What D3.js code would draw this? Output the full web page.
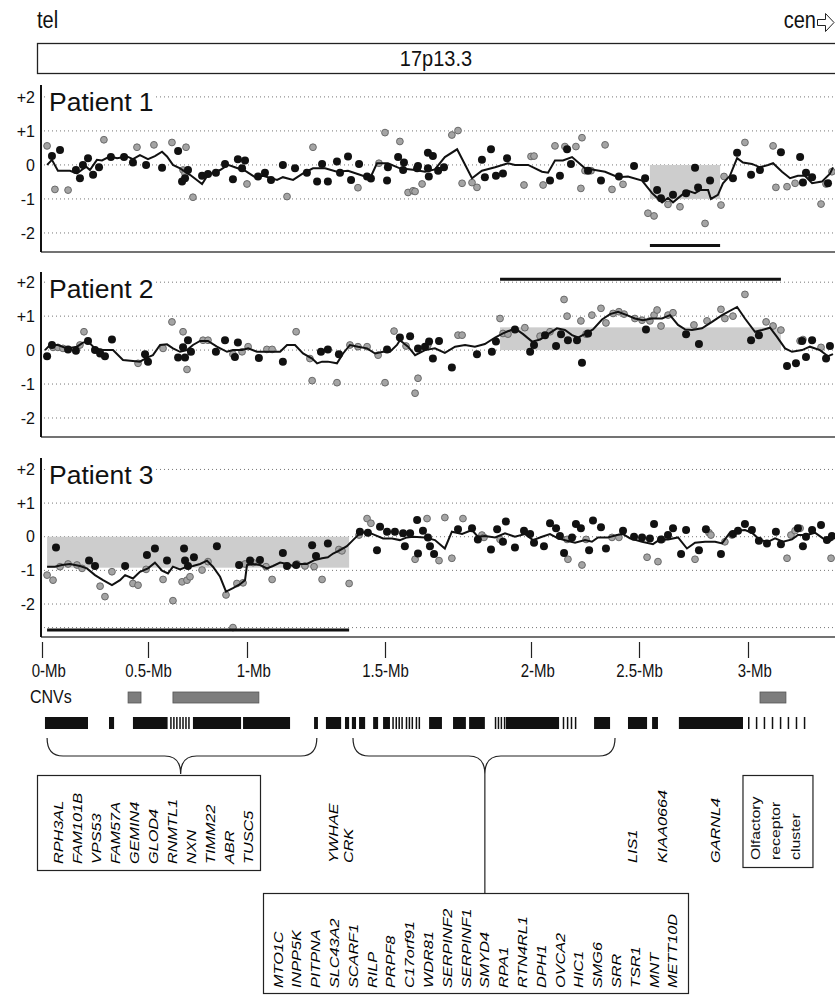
<!DOCTYPE html>
<html>
<head>
<meta charset="utf-8">
<script src="https://cdn.jsdelivr.net/npm/d3@7"></script>
<style>
body { margin: 0; background: #fff; }
text { font-family: "Liberation Sans", Arial, sans-serif; fill: #111; }
.gene { font-style: italic; font-size: 13px; fill: #000; }
</style>
</head>
<body>
<script>
//data - positions in Mb, values are log2 ratios

var xTickValues = [0, 0.5, 1, 1.5, 2, 2.5, 3];
var yTickValues = [2, 1, 0, -1, -2];
var yTickLabels = ["+2", "+1", "0", "-1", "-2"];

var p1Line = [[0.024,0],[0.047,0.15],[0.075,-0.17],[0.132,-0.17],[0.165,-0.25],[0.208,-0.05],[0.226,-0.15],[0.259,0.15],[0.283,0.13],[0.321,0.25],[0.354,0.2],[0.401,0.25],[0.429,0.17],[0.462,0.29],[0.5,0.17],[0.535,0.26],[0.571,0.39],[0.596,0.25],[0.626,0],[0.662,-0.1],[0.712,-0.29],[0.773,-0.56],[0.803,-0.29],[0.864,-0.15],[0.904,0],[0.939,-0.07],[0.99,-0.17],[1.029,-0.36],[1.058,-0.32],[1.109,-0.44],[1.13,-0.36],[1.167,-0.44],[1.203,-0.25],[1.239,-0.1],[1.283,-0.1],[1.326,-0.2],[1.366,-0.17],[1.409,-0.29],[1.446,-0.39],[1.471,0.05],[1.51,0.05],[1.551,-0.1],[1.603,-0.15],[1.637,-0.2],[1.671,-0.13],[1.705,0.23],[1.747,0.46],[1.798,-0.39],[1.832,-0.17],[1.877,-0.07],[1.921,0.05],[1.945,0],[1.99,0],[2.051,-0.2],[2.079,-0.23],[2.111,0.13],[2.148,0.13],[2.19,0.23],[2.25,-0.1],[2.296,-0.15],[2.343,-0.2],[2.403,-0.36],[2.449,-0.34],[2.514,-0.46],[2.56,-0.83],[2.606,-1.1],[2.633,-0.97],[2.656,-1.1],[2.697,-0.88],[2.725,-0.76],[2.757,-0.83],[2.78,-0.74],[2.817,-0.74],[2.83,-1.0],[2.862,-0.88],[2.885,-0.54],[2.917,-0.32],[2.95,0.2],[2.977,0.07],[3.018,0.03],[3.055,-0.07],[3.092,0],[3.115,0.05],[3.156,-0.2],[3.193,-0.39],[3.229,-0.32],[3.261,-0.32],[3.294,-0.54],[3.339,-0.49],[3.376,-0.26],[3.39,-0.07]];
var p1Black = [[0.047,0.26],[0.085,0.44],[0.16,-0.15],[0.179,-0.39],[0.193,0],[0.217,0.2],[0.241,-0.29],[0.269,-0.07],[0.325,0.23],[0.387,0.23],[0.429,0.07],[0.491,0],[0.571,-0.08],[0.652,0.41],[0.672,-0.49],[0.687,-0.39],[0.702,-0.15],[0.773,-0.32],[0.803,-0.27],[0.843,-0.23],[0.889,0.03],[0.929,-0.42],[0.954,0.17],[0.99,0.13],[0.975,-0.1],[1.04,-0.34],[1.065,-0.23],[1.087,-0.44],[1.13,0],[1.174,-0.1],[1.217,-0.23],[1.254,-0.49],[1.272,0.03],[1.293,-0.49],[1.326,0.1],[1.337,-0.23],[1.366,0.25],[1.377,-0.44],[1.406,0.03],[1.435,-0.34],[1.449,-0.4],[1.507,-0.46],[1.51,-0.07],[1.545,0.23],[1.565,0.07],[1.562,-0.15],[1.61,-0.1],[1.613,-0.03],[1.647,0.36],[1.664,0.26],[1.647,-0.1],[1.65,-0.34],[1.682,-0.17],[1.702,-0.07],[1.832,0.15],[1.842,-0.36],[1.863,0.46],[1.88,-0.32],[1.904,-0.25],[1.918,0.2],[2.134,-0.32],[2.088,-0.46],[2.167,0.46],[2.185,0.03],[2.264,-0.17],[2.324,-0.46],[2.407,-0.34],[2.477,-0.03],[2.528,-0.39],[2.583,-0.74],[2.601,-0.98],[2.656,-0.88],[2.716,-0.83],[2.757,-0.08],[2.771,-0.66],[2.826,-0.46],[2.931,-0.39],[2.95,0.36],[3.014,-0.29],[3.055,-0.15],[3.151,0.37],[3.239,0.23],[3.252,-0.52],[3.266,-0.23],[3.294,-0.36],[3.367,-0.54]];
var p1Gray = [[0.024,0.56],[0.061,-0.72],[0.123,-0.74],[0.292,0.74],[0.448,0.52],[0.53,0.59],[0.621,0.66],[0.677,-0.15],[0.687,-0.25],[0.692,0.52],[0.727,-0.95],[1.0,-0.56],[1.145,-0.93],[1.239,0.52],[1.402,-0.67],[1.478,0.05],[1.5,0.95],[1.551,0.69],[1.579,-0.81],[1.596,-0.76],[1.603,-0.78],[1.627,-0.56],[1.729,0.88],[1.75,1.01],[1.764,-0.54],[1.798,-0.52],[1.815,-0.66],[1.976,-0.59],[2.0,0.25],[2.014,0.26],[2.056,-0.59],[2.111,0.56],[2.157,0.54],[2.208,0.54],[2.236,0.8],[2.231,-0.69],[2.25,-0.17],[2.278,-0.17],[2.343,0.59],[2.375,-0.72],[2.426,-0.57],[2.541,-1.42],[2.569,-1.5],[2.633,-1.16],[2.688,-1.23],[2.803,-1.72],[2.876,-1.18],[2.89,-0.34],[2.986,0.66],[3.115,0.56],[3.128,-0.66],[3.179,-0.64],[3.216,-0.54],[3.335,-1.15],[3.358,-0.56],[3.385,-0.2]];

var p2Line = [[0.014,0],[0.038,0.15],[0.075,0.15],[0.118,0.05],[0.165,0.1],[0.193,0.22],[0.217,0.25],[0.25,0.05],[0.283,0],[0.335,0],[0.382,-0.29],[0.429,-0.32],[0.462,-0.34],[0.495,-0.22],[0.525,-0.15],[0.561,0.15],[0.596,0.17],[0.626,0.05],[0.662,-0.05],[0.697,0],[0.727,0.15],[0.763,0.27],[0.803,0.27],[0.848,0.1],[0.899,-0.05],[0.929,0],[0.975,0],[1.004,0.05],[1.036,-0.05],[1.072,-0.05],[1.12,-0.05],[1.145,0.15],[1.174,0.15],[1.203,-0.1],[1.236,-0.25],[1.254,-0.39],[1.272,-0.34],[1.293,-0.34],[1.326,-0.39],[1.348,-0.1],[1.373,0.15],[1.402,0.1],[1.435,0.05],[1.464,-0.1],[1.493,-0.05],[1.517,-0.05],[1.541,0.15],[1.551,0.29],[1.579,0.1],[1.603,-0.15],[1.637,0],[1.671,0.05],[1.705,-0.08],[1.74,0.1],[1.774,0.15],[1.808,0.1],[1.842,0.18],[1.877,0.37],[1.904,0.49],[1.945,0.64],[1.973,0.47],[2.005,0.25],[2.042,0.31],[2.079,0.47],[2.12,0.64],[2.157,0.59],[2.19,0.44],[2.218,0.37],[2.259,0.51],[2.287,0.61],[2.329,0.9],[2.366,1.06],[2.403,1.13],[2.444,1.03],[2.481,0.93],[2.518,0.88],[2.56,0.93],[2.606,0.93],[2.642,1.03],[2.679,0.74],[2.711,0.61],[2.743,0.59],[2.789,0.64],[2.835,0.83],[2.881,1.03],[2.95,1.27],[2.986,0.93],[3.032,0.54],[3.064,0.59],[3.101,0.66],[3.133,0.39],[3.17,0.05],[3.202,-0.05],[3.248,0],[3.284,0.1],[3.33,0],[3.367,-0.18],[3.39,-0.12]];
var p2Black = [[0.024,-0.18],[0.047,0.15],[0.123,0.02],[0.16,-0.02],[0.217,0.27],[0.25,0],[0.274,-0.1],[0.297,-0.18],[0.33,0.31],[0.486,-0.12],[0.5,-0.34],[0.652,-0.22],[0.677,0.08],[0.687,-0.22],[0.702,0.29],[0.717,-0.05],[0.843,-0.05],[0.889,0.29],[0.939,-0.2],[0.954,0.22],[1.043,-0.23],[1.13,-0.34],[1.268,-0.05],[1.293,0.02],[1.333,-0.12],[1.507,0.02],[1.551,0.37],[1.586,0.41],[1.613,0.05],[1.637,0.1],[1.651,0.25],[1.664,-0.25],[1.685,0.27],[1.729,-0.51],[1.815,-0.12],[1.866,-0.05],[1.88,0.25],[1.945,0.61],[1.997,-0.05],[2.014,0.15],[2.065,0.44],[2.116,0.12],[2.139,0.47],[2.171,0.29],[2.213,0.29],[2.236,-0.37],[2.264,0.49],[2.532,0.61],[2.716,0.47],[2.775,0.18],[3.014,0.29],[3.05,0.44],[3.179,-0.47],[3.22,-0.39],[3.248,0.27],[3.266,-0.2],[3.294,0.29],[3.358,-0.25],[3.376,0.12]];
var p2Gray = [[0.052,0.08],[0.075,0.08],[0.099,0.05],[0.179,0.15],[0.198,0.54],[0.274,-0.05],[0.453,-0.39],[0.576,0.05],[0.621,0.83],[0.677,0.54],[0.697,-0.57],[0.778,0.29],[0.803,0.29],[0.929,-0.12],[0.975,-0.05],[1.004,0.1],[1.072,0.02],[1.091,0.02],[1.178,0.54],[1.228,-0.25],[1.236,-0.9],[1.326,-0.96],[1.373,0.15],[1.402,0.1],[1.435,0.1],[1.475,-0.15],[1.5,-0.96],[1.531,0.56],[1.572,0.12],[1.603,-1.27],[1.613,-0.83],[1.647,0.15],[1.75,0.44],[1.764,0.44],[1.894,0.93],[1.904,0.49],[1.921,0.47],[1.979,0.66],[2.042,0.41],[2.088,0.54],[2.153,1.49],[2.167,1.0],[2.231,0.86],[2.255,0.47],[2.282,1.03],[2.324,1.23],[2.347,0.8],[2.38,1.08],[2.407,1.13],[2.431,1.06],[2.481,0.93],[2.514,0.88],[2.55,0.86],[2.569,1.03],[2.583,1.18],[2.601,0.71],[2.633,1.03],[2.656,1.1],[2.752,0.74],[2.812,0.86],[2.876,1.2],[2.894,0.93],[2.931,1.0],[2.986,1.64],[3.083,0.83],[3.115,0.71],[3.151,0.59],[3.239,0.27],[3.252,0.31],[3.335,0.08]];

var p3Line = [[0.024,-0.89],[0.061,-0.89],[0.094,-0.84],[0.132,-0.81],[0.179,-0.87],[0.212,-0.94],[0.25,-1.14],[0.288,-1.29],[0.33,-1.44],[0.368,-1.29],[0.392,-1.14],[0.429,-1.24],[0.462,-1.04],[0.5,-0.94],[0.535,-0.77],[0.571,-1.01],[0.601,-1.09],[0.626,-0.89],[0.662,-0.97],[0.697,-0.89],[0.727,-0.87],[0.763,-0.81],[0.798,-0.71],[0.828,-0.89],[0.864,-1.19],[0.894,-1.63],[0.929,-1.53],[0.965,-1.41],[0.99,-1.29],[1.0,-0.84],[1.022,-0.81],[1.047,-0.84],[1.072,-0.94],[1.094,-0.87],[1.12,-0.77],[1.145,-0.81],[1.167,-0.87],[1.192,-0.81],[1.217,-0.81],[1.246,-0.69],[1.272,-0.64],[1.293,-0.61],[1.312,-0.5],[1.337,-0.4],[1.362,-0.28],[1.384,-0.1],[1.409,0.1],[1.435,0.15],[1.464,0.05],[1.493,-0.05],[1.524,-0.05],[1.551,-0.1],[1.575,-0.02],[1.596,0],[1.637,-0.02],[1.671,-0.1],[1.705,-0.35],[1.729,0.15],[1.764,0.08],[1.798,0.2],[1.818,0],[1.842,0.02],[1.877,-0.02],[1.911,0.1],[1.945,0],[1.979,0.08],[2.009,-0.1],[2.051,0],[2.088,0.08],[2.125,-0.05],[2.167,-0.12],[2.204,-0.18],[2.25,-0.1],[2.282,-0.15],[2.31,-0.02],[2.356,-0.02],[2.398,0.05],[2.426,0.08],[2.458,-0.05],[2.514,-0.15],[2.564,-0.22],[2.596,-0.08],[2.633,-0.08],[2.679,-0.02],[2.72,-0.35],[2.757,-0.18],[2.803,-0.15],[2.849,-0.15],[2.881,-0.2],[2.917,0.12],[2.95,0.18],[2.986,0.2],[3.018,0.12],[3.055,-0.1],[3.092,-0.15],[3.124,-0.05],[3.161,-0.15],[3.202,-0.08],[3.229,0.05],[3.271,0.05],[3.307,0.12],[3.344,-0.05],[3.367,-0.15],[3.39,-0.08]];
var p3Black = [[0.066,-0.32],[0.222,-0.71],[0.25,-0.87],[0.392,-0.87],[0.495,-0.54],[0.535,-0.35],[0.596,-0.71],[0.682,-0.35],[0.687,-0.71],[0.702,-0.87],[0.732,-0.61],[0.848,-0.28],[0.96,-0.84],[1.011,-0.71],[1.047,-0.69],[1.13,-0.48],[1.145,-0.87],[1.178,-0.84],[1.236,-0.25],[1.25,-0.57],[1.293,-0.2],[1.409,0.15],[1.438,0.12],[1.471,-0.4],[1.482,0.3],[1.507,0.15],[1.534,0.15],[1.562,0.1],[1.568,-0.28],[1.586,0.1],[1.61,0.5],[1.613,-0.5],[1.63,0.18],[1.647,-0.02],[1.654,-0.28],[1.668,-0.51],[1.75,0.22],[1.798,0.25],[1.818,-0.08],[1.863,-0.38],[1.884,0.22],[1.904,-0.15],[1.914,0.45],[1.945,-0.32],[1.976,0.18],[1.997,0.08],[2.014,-0.18],[2.06,-0.28],[2.088,0.4],[2.116,0.25],[2.134,0.02],[2.153,-0.48],[2.19,-0.02],[2.208,0.38],[2.231,0.25],[2.269,-0.4],[2.287,0.48],[2.324,0.28],[2.347,-0.35],[2.426,0.18],[2.477,0],[2.514,-0.02],[2.55,-0.05],[2.569,0.38],[2.601,-0.08],[2.633,0.05],[2.656,0.25],[2.693,-0.51],[2.716,0.2],[2.775,-0.4],[2.807,0.22],[2.876,-0.51],[2.931,0.08],[2.954,0.18],[2.986,0.38],[3.018,0.2],[3.05,-0.12],[3.087,-0.2],[3.128,0.15],[3.151,-0.22],[3.229,0.25],[3.252,-0.28],[3.266,0],[3.294,0.2],[3.335,0.35],[3.362,-0.1],[3.385,0.02]];
var p3Gray = [[0.024,-1.14],[0.052,-1.29],[0.085,-0.89],[0.123,-0.81],[0.165,-0.84],[0.189,-0.94],[0.274,-1.47],[0.297,-1.78],[0.33,-1.04],[0.429,-1.39],[0.453,-1.44],[0.491,-0.97],[0.576,-1.27],[0.626,-1.9],[0.672,-1.34],[0.697,-1.29],[0.712,-1.19],[0.773,-0.99],[0.803,-0.74],[0.894,-1.73],[0.949,-1.39],[0.98,-1.37],[0.99,-0.81],[1.022,-0.77],[1.069,-0.89],[1.091,-1.27],[1.181,-0.81],[1.21,-0.87],[1.243,-0.89],[1.272,-1.27],[1.333,-0.38],[1.344,-0.42],[1.37,-1.39],[1.406,0.05],[1.435,0.54],[1.449,0.4],[1.603,-0.67],[0.929,-2.7],[1.644,0.54],[1.685,-0.71],[1.705,0.57],[1.729,-0.64],[1.767,0.54],[1.832,0.05],[1.839,-0.02],[1.894,-0.08],[2.167,-0.08],[2.171,-0.67],[2.236,-0.84],[2.255,-0.08],[2.375,-0.02],[2.407,-0.02],[2.537,-0.61],[2.587,-0.74],[2.606,-0.08],[2.757,-0.67],[2.821,0.12],[2.83,0.05],[2.894,-0.15],[2.927,0.05],[3.179,-0.64],[3.197,0.05],[3.216,0.18],[3.239,0.25],[3.381,-0.64]];

//segmented regions [startMb, endMb, value] and the bar marking the CNV call
var p1Shade = [2.55, 2.872, -1], p1Bar = [2.55, 2.872, -2.37];
var p2Shade = [1.894, 3.151, 0.67], p2Bar = [1.894, 3.151, 2.09];
var p3Shade = [0.024, 1.37, -0.92], p3Bar = [0.024, 1.37, -2.77];

var cnvs = [[0.406, 0.467], [0.626, 1.043], [3.055, 3.174]];

var genes = [[0.014,0.217],[0.316,0.34],[0.429,0.599],[0.612,0.619],[0.627,0.634],[0.642,0.649],[0.658,0.665],[0.673,0.68],[0.688,0.695],[0.703,0.71],[0.727,0.97],[0.98,1.156],[1.243,1.257],[1.286,1.341],[1.355,1.37],[1.38,1.395],[1.406,1.428],[1.457,1.475],[1.493,1.517],[1.525,1.53],[1.536,1.541],[1.546,1.551],[1.556,1.561],[1.571,1.575],[1.581,1.585],[1.591,1.595],[1.605,1.609],[1.615,1.619],[1.651,1.695],[1.733,1.777],[1.788,1.842],[1.876,1.88],[1.886,1.89],[1.896,1.9],[1.907,1.911],[1.914,2.13],[2.147,2.152],[2.166,2.171],[2.184,2.189],[2.203,2.208],[2.292,2.366],[2.449,2.537],[2.56,2.587],[2.683,2.977],[3.0,3.006],[3.036,3.042],[3.072,3.078],[3.109,3.115],[3.146,3.152],[3.182,3.188],[3.219,3.225],[3.256,3.262]];

//braces [leftMb, tipMb, rightMb]
var braces = [[0.024, 0.665, 1.253], [1.384, 1.842, 2.389]];

var box1Genes = ["RPH3AL","FAM101B","VPS53","FAM57A","GEMIN4","GLOD4","RNMTL1","NXN","TIMM22","ABR","TUSC5"];
var box2Genes = ["MTO1C","INPP5K","PITPNA","SLC43A2","SCARF1","RILP","PRPF8","C17orf91","WDR81","SERPINF2","SERPINF1","SMYD4","RPA1","RTN4RL1","DPH1","OVCA2","HIC1","SMG6","SRR","TSR1","MNT","METT10D"];
var singleGenes = [["YWHAE",1.312],["CRK",1.366],["LIS1",2.468],["KIAA0664",2.61],["GARNL4",2.849]];
var olfLines = ["Olfactory","receptor","cluster"];

window.onload = function(){

	var w = 835, h = 995;

	var svg = d3.select("body")
		.append("svg")
		.attr("width", w)
		.attr("height", h)
		.style("display", "block");

	//x scale is stretched unevenly along the chromosome, so piecewise
	var x = d3.scaleLinear()
		.domain([0, 0.5, 1, 1.5, 2, 2.5, 3, 3.5])
		.range([42, 148, 247, 385, 531, 639, 748, 857]);

	//header (scan is a bit tall, so text is stretched vertically)
	svg.append("text").attr("transform", "translate(37,28) scale(1,1.15)").style("font-size", "20px").text("tel");
	svg.append("text").attr("transform", "translate(816,28) scale(1,1.15)").attr("text-anchor", "end").style("font-size", "20px").text("cen");
	svg.append("path")
		.attr("d", "M817.5,19.5 L825.5,19.5 L825.5,13.5 L834,22.5 L825.5,31.5 L825.5,25.5 L817.5,25.5 Z")
		.style("fill", "none").style("stroke", "#222").style("stroke-width", 1);
	svg.append("rect")
		.attr("x", 37.5).attr("y", 43.5).attr("width", 810).attr("height", 30)
		.style("fill", "none").style("stroke", "#222").style("stroke-width", 1.3);
	svg.append("text").attr("transform", "translate(436,66) scale(1,1.1)").attr("text-anchor", "middle")
		.style("font-size", "20px").text("17p13.3");

	var panels = [
		{name: "Patient 1", top: 85, bottom: 252, ymin: -2.56, ymax: 2.35, line: p1Line, black: p1Black, gray: p1Gray, shade: p1Shade, bar: p1Bar, extra: []},
		{name: "Patient 2", top: 272, bottom: 437, ymin: -2.56, ymax: 2.3, line: p2Line, black: p2Black, gray: p2Gray, shade: p2Shade, bar: p2Bar, extra: []},
		{name: "Patient 3", top: 458, bottom: 637, ymin: -2.98, ymax: 2.34, line: p3Line, black: p3Black, gray: p3Gray, shade: p3Shade, bar: p3Bar, extra: [-2.7]}
	];

	panels.forEach(function(p){
		var y = d3.scaleLinear().domain([p.ymin, p.ymax]).range([p.bottom, p.top]);
		var g = svg.append("g").attr("class", "panel");

		//dotted gridlines
		g.selectAll(".grid")
			.data(yTickValues.concat(p.extra))
			.enter()
			.append("line")
			.attr("x1", 44).attr("x2", w)
			.attr("y1", function(d){ return y(d); })
			.attr("y2", function(d){ return y(d); })
			.style("stroke", "#777")
			.style("stroke-width", 1)
			.style("stroke-dasharray", "1,3");

		//shaded segment
		g.append("rect")
			.attr("x", x(p.shade[0]))
			.attr("width", x(p.shade[1]) - x(p.shade[0]))
			.attr("y", y(Math.max(0, p.shade[2])))
			.attr("height", Math.abs(y(p.shade[2]) - y(0)))
			.style("fill", "#cdcdcd");

		//gray points
		g.selectAll(".gray")
			.data(p.gray)
			.enter()
			.append("circle")
			.attr("cx", function(d){ return x(d[0]); })
			.attr("cy", function(d){ return y(d[1]); })
			.attr("r", 3.4)
			.style("fill", "#a4a4a4")
			.style("stroke", "#6a6a6a")
			.style("stroke-width", 1);

		//moving average line
		g.append("path")
			.datum(p.line)
			.attr("d", d3.line()
				.x(function(d){ return x(d[0]); })
				.y(function(d){ return y(d[1]); }))
			.style("fill", "none")
			.style("stroke", "#111")
			.style("stroke-width", 2);

		//black points
		g.selectAll(".black")
			.data(p.black)
			.enter()
			.append("circle")
			.attr("cx", function(d){ return x(d[0]); })
			.attr("cy", function(d){ return y(d[1]); })
			.attr("r", 4)
			.style("fill", "#111");

		//bar under/over the called region
		g.append("line")
			.attr("x1", x(p.bar[0])).attr("x2", x(p.bar[1]))
			.attr("y1", y(p.bar[2])).attr("y2", y(p.bar[2]))
			.style("stroke", "#111").style("stroke-width", 3);

		//bottom edge and left axis
		g.append("line")
			.attr("x1", 41).attr("x2", w)
			.attr("y1", p.bottom).attr("y2", p.bottom)
			.style("stroke", "#444").style("stroke-width", 1.5);
		g.append("line")
			.attr("x1", 41).attr("x2", 41)
			.attr("y1", p.top).attr("y2", p.bottom)
			.style("stroke", "#111").style("stroke-width", 2);

		//y labels
		g.selectAll(".ylab")
			.data(yTickValues)
			.enter()
			.append("text")
			.attr("x", 35)
			.attr("y", function(d){ return y(d); })
			.attr("dy", "0.35em")
			.attr("text-anchor", "end")
			.style("font-size", "16px")
			.text(function(d, i){ return yTickLabels[i]; });

		//patient title with white backing
		var title = g.append("text")
			.attr("x", 49)
			.attr("y", p.top + 26)
			.style("font-size", "26.5px")
			.text(p.name);
		var bb = title.node().getBBox();
		g.insert("rect", "text")
			.attr("x", bb.x - 2).attr("y", bb.y)
			.attr("width", bb.width + 4).attr("height", bb.height)
			.style("fill", "#fff");
	});

	//x axis
	var xAxis = d3.axisBottom(x)
		.tickValues(xTickValues)
		.tickSize(16)
		.tickFormat("");

	var axis = svg.append("g")
		.attr("class", "axis")
		.attr("transform", "translate(0, 642)")
		.call(xAxis);
	axis.select(".domain").remove();
	axis.selectAll(".tick line").style("stroke", "#222").style("stroke-width", 1.2);

	//labels: number ends at the tick, "-Mb" starts there
	var tickLab = svg.selectAll(".xlab")
		.data(xTickValues)
		.enter()
		.append("g")
		.attr("transform", function(d){ return "translate(" + x(d) + ",677) scale(1,1.2)"; });
	tickLab.append("text")
		.attr("text-anchor", "end")
		.attr("x", -2)
		.style("font-size", "15px")
		.text(function(d){ return d; });
	tickLab.append("text")
		.attr("x", -2)
		.style("font-size", "15px")
		.text("-Mb");

	//CNV track
	svg.append("text").attr("transform", "translate(30,703) scale(1,1.2)").style("font-size", "16px").text("CNVs");
	svg.selectAll(".cnv")
		.data(cnvs)
		.enter()
		.append("rect")
		.attr("x", function(d){ return x(d[0]); })
		.attr("width", function(d){ return x(d[1]) - x(d[0]); })
		.attr("y", 692)
		.attr("height", 11)
		.style("fill", "#7d7d7d")
		.style("stroke", "#555")
		.style("stroke-width", 0.8);

	//gene track
	svg.selectAll(".gene-block")
		.data(genes)
		.enter()
		.append("rect")
		.attr("x", function(d){ return x(d[0]); })
		.attr("width", function(d){ return Math.max(1.5, x(d[1]) - x(d[0])); })
		.attr("y", 717)
		.attr("height", 12)
		.style("fill", "#111");

	//braces
	var by0 = 738, by1 = 756, byTip = 774;
	svg.selectAll(".brace")
		.data(braces)
		.enter()
		.append("path")
		.attr("d", function(d){
			var l = x(d[0]), t = x(d[1]), r = x(d[2]);
			return "M" + l + "," + by0 +
				" Q" + l + "," + by1 + " " + (l + 16) + "," + by1 +
				" L" + (t - 16) + "," + by1 +
				" Q" + t + "," + by1 + " " + t + "," + byTip +
				" Q" + t + "," + by1 + " " + (t + 16) + "," + by1 +
				" L" + (r - 16) + "," + by1 +
				" Q" + r + "," + by1 + " " + r + "," + by0;
		})
		.style("fill", "none")
		.style("stroke", "#222")
		.style("stroke-width", 1.2);

	//connector from second brace to its box
	svg.append("line")
		.attr("x1", x(braces[1][1])).attr("x2", x(braces[1][1]))
		.attr("y1", byTip).attr("y2", 893)
		.style("stroke", "#222").style("stroke-width", 1.2);

	//gene name boxes
	svg.append("rect").attr("x", 37.5).attr("y", 775.5).attr("width", 223).attr("height", 95)
		.style("fill", "none").style("stroke", "#222").style("stroke-width", 1.2);
	svg.append("rect").attr("x", 263.5).attr("y", 893.5).attr("width", 425).attr("height", 100)
		.style("fill", "none").style("stroke", "#222").style("stroke-width", 1.2);

	//vertical label, stretched along its length like the scan
	function vlabel(sel, cx, yb, txt, cls){
		sel.append("text")
			.attr("class", cls)
			.attr("transform", "translate(" + (cx + 4.5) + "," + yb + ") rotate(-90) scale(1.25,1)")
			.text(txt);
	}

	box1Genes.forEach(function(gname, i){ vlabel(svg, 58 + i * 19, 864, gname, "gene"); });
	box2Genes.forEach(function(gname, i){ vlabel(svg, 278 + i * 18.8, 988, gname, "gene"); });
	singleGenes.forEach(function(d){ vlabel(svg, x(d[1]), 863, d[0], "gene"); });

	//olfactory receptor box
	var ox0 = x(2.977), ox1 = x(3.298);
	svg.append("rect").attr("x", ox0).attr("y", 775.5).attr("width", ox1 - ox0).attr("height", 92)
		.style("fill", "none").style("stroke", "#222").style("stroke-width", 1.2);
	olfLines.forEach(function(t, i){
		svg.append("text")
			.attr("transform", "translate(" + (ox0 + 17 + i * 20) + ",860) rotate(-90) scale(1.22,1)")
			.style("font-size", "13px")
			.text(t);
	});
};
</script>
</body>
</html>
